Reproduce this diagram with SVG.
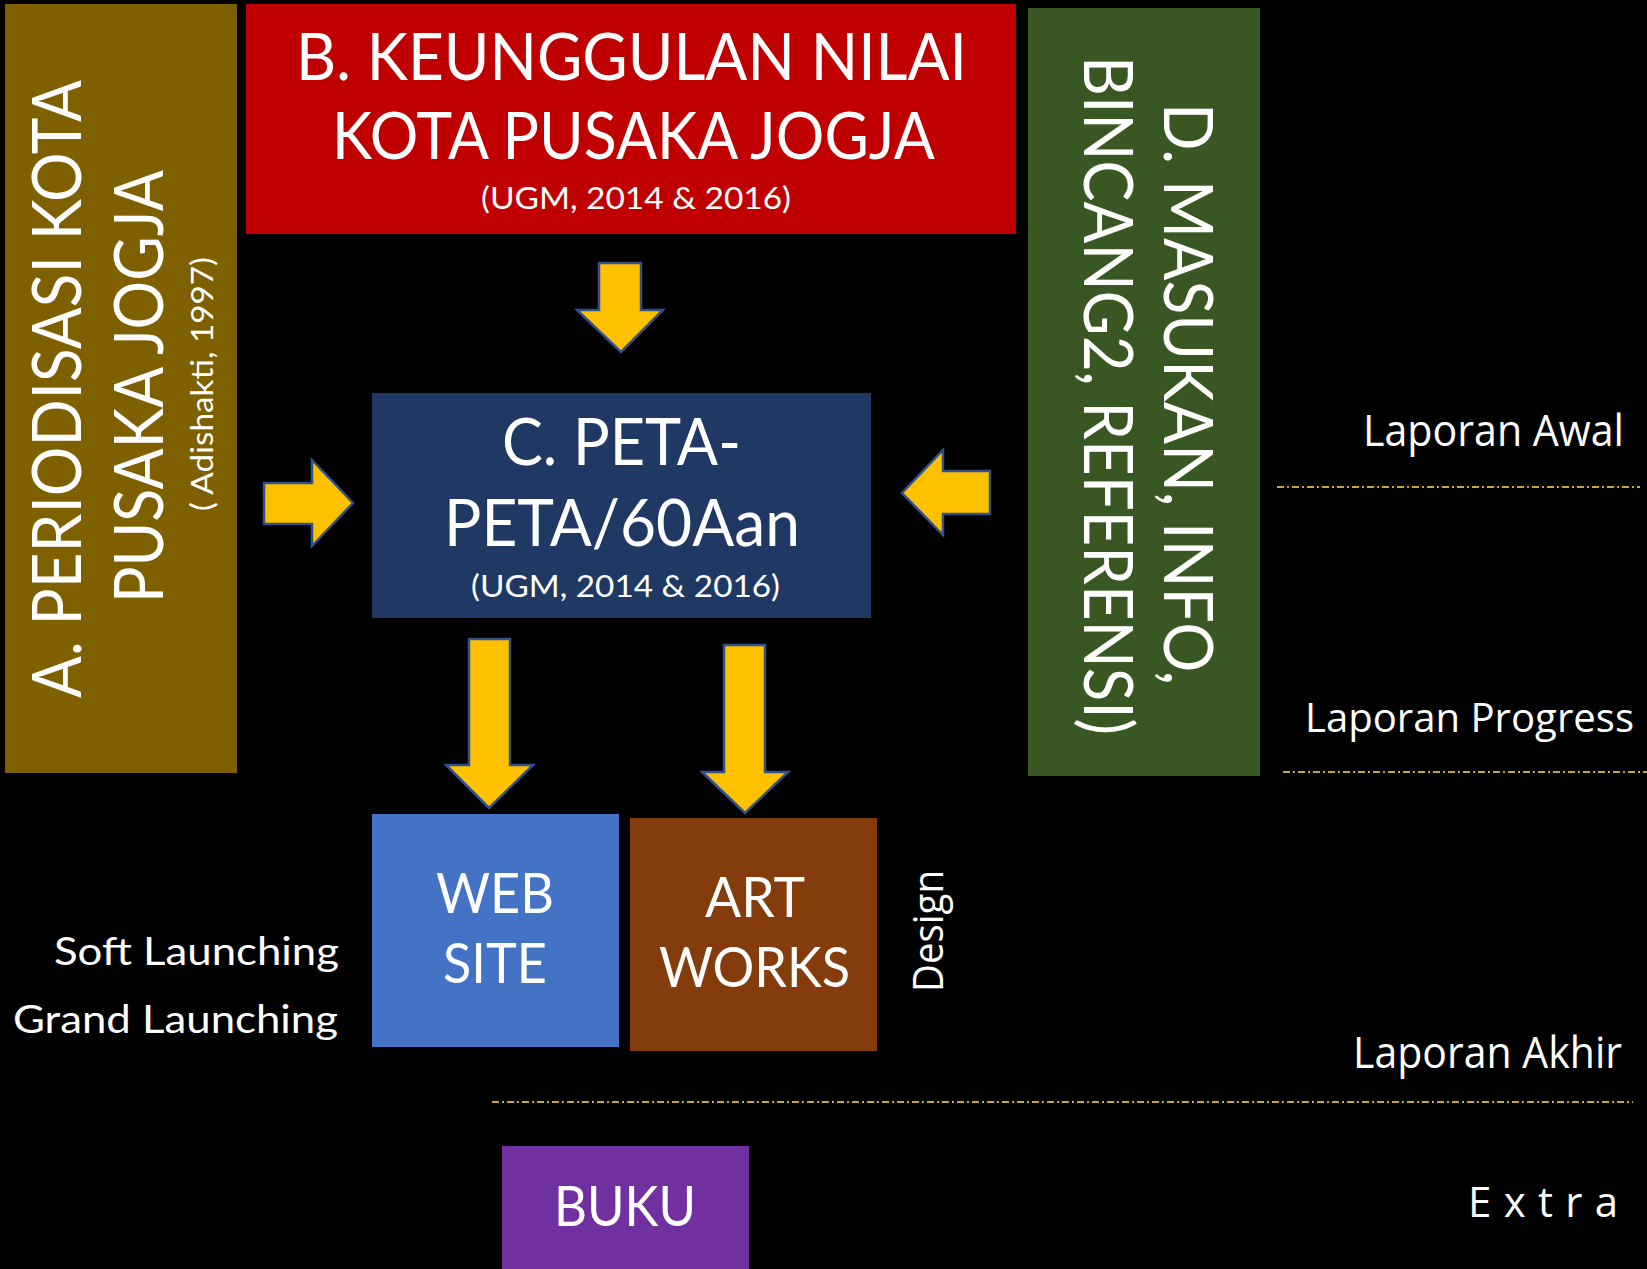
<svg xmlns="http://www.w3.org/2000/svg" width="1647" height="1269" viewBox="0 0 1647 1269">
<style>
.t{font-family:Lato,"Liberation Sans",sans-serif;fill:#fff}
.s{font-family:"Open Sans","Liberation Sans",sans-serif;fill:#fff}
.arr{fill:#FFC000;stroke:#2F528F;stroke-width:2.5;stroke-linejoin:miter}
.dash{stroke:#C9A640;stroke-width:2;stroke-dasharray:7 3 2 3;fill:none}
</style>
<rect x="0" y="0" width="1647" height="1269" fill="#000"/>

<g id="nodeA">
<rect x="5" y="4" width="232" height="769" fill="#7F6000"/>
<text class="t" font-size="67" transform="translate(81,698) rotate(-90)" textLength="618" lengthAdjust="spacingAndGlyphs">A. PERIODISASI KOTA</text>
<text class="t" font-size="67" transform="translate(163,603) rotate(-90)" textLength="433" lengthAdjust="spacingAndGlyphs">PUSAKA JOGJA</text>
<text class="t" font-size="30" transform="translate(213,511) rotate(-90)" textLength="254" lengthAdjust="spacingAndGlyphs">( Adishakti, 1997)</text>
</g>

<g id="nodeB">
<rect x="246" y="4" width="770" height="230" fill="#C00000"/>
<text class="t" font-size="66" x="296" y="80" textLength="671" lengthAdjust="spacingAndGlyphs">B. KEUNGGULAN NILAI</text>
<text class="t" font-size="66" x="332" y="159" textLength="603" lengthAdjust="spacingAndGlyphs">KOTA PUSAKA JOGJA</text>
<text class="t" font-size="31" x="481" y="209" textLength="310" lengthAdjust="spacingAndGlyphs">(UGM, 2014 &amp; 2016)</text>
</g>

<g id="nodeD">
<rect x="1028" y="8" width="232" height="768" fill="#385723"/>
<text class="t" font-size="67" transform="translate(1164,103) rotate(90)" textLength="582" lengthAdjust="spacingAndGlyphs">D. MASUKAN, INFO,</text>
<text class="t" font-size="67" transform="translate(1084,56) rotate(90)" textLength="679" lengthAdjust="spacingAndGlyphs">BINCANG2, REFERENSI)</text>
</g>

<g id="nodeC">
<rect x="372" y="393" width="499" height="225" fill="#203864"/>
<text class="t" font-size="66" x="502" y="465" textLength="239" lengthAdjust="spacingAndGlyphs">C. PETA-</text>
<text class="t" font-size="66" x="444" y="546" textLength="356" lengthAdjust="spacingAndGlyphs">PETA/60Aan</text>
<text class="t" font-size="31" x="471" y="597" textLength="309" lengthAdjust="spacingAndGlyphs">(UGM, 2014 &amp; 2016)</text>
</g>

<g id="nodeWeb">
<rect x="372" y="814" width="247" height="233" fill="#4472C4"/>
<text class="t" font-size="56" x="436" y="913" textLength="118" lengthAdjust="spacingAndGlyphs">WEB</text>
<text class="t" font-size="56" x="443" y="983" textLength="104" lengthAdjust="spacingAndGlyphs">SITE</text>
</g>

<g id="nodeArt">
<rect x="630" y="818" width="247" height="233" fill="#843C0C"/>
<text class="t" font-size="56" x="705" y="917" textLength="100" lengthAdjust="spacingAndGlyphs">ART</text>
<text class="t" font-size="56" x="659" y="987" textLength="191" lengthAdjust="spacingAndGlyphs">WORKS</text>
</g>

<g id="nodeBuku">
<rect x="502" y="1146" width="247" height="123" fill="#7030A0"/>
<text class="t" font-size="57" x="554" y="1226" textLength="142" lengthAdjust="spacingAndGlyphs">BUKU</text>
</g>

<g id="labels">
<text class="t" font-size="39" x="54" y="965" textLength="285" lengthAdjust="spacingAndGlyphs">Soft Launching</text>
<text class="t" font-size="39" x="13" y="1033" textLength="325" lengthAdjust="spacingAndGlyphs">Grand Launching</text>
<text class="s" font-size="42" transform="translate(943,992) rotate(-90)" textLength="122" lengthAdjust="spacingAndGlyphs">Design</text>
<text class="s" font-size="43" x="1363" y="446" textLength="261" lengthAdjust="spacingAndGlyphs">Laporan Awal</text>
<text class="s" font-size="40" x="1305" y="732" textLength="329" lengthAdjust="spacingAndGlyphs">Laporan Progress</text>
<text class="s" font-size="43" x="1353" y="1068" textLength="269" lengthAdjust="spacingAndGlyphs">Laporan Akhir</text>
<text class="s" font-size="42" x="1468" y="1217" textLength="150" lengthAdjust="spacing">Extra</text>
</g>

<g id="dividers">
<line class="dash" x1="1277" y1="487" x2="1640" y2="487"/>
<line class="dash" x1="1283" y1="772" x2="1647" y2="772"/>
<line class="dash" x1="492" y1="1102" x2="1633" y2="1102"/>
</g>

<g id="connectors">
<polygon class="arr" points="599,263 641,263 641,310 663,310 621,352 577,310 599,310"/>
<polygon class="arr" points="264,483 312,483 312,460 353,503 312,546 312,524 264,524"/>
<polygon class="arr" points="990,471 943,471 943,450 902,493 943,535 943,514 990,514"/>
<polygon class="arr" points="469,639 510,639 510,765 533,765 489,808 446,765 469,765"/>
<polygon class="arr" points="724,645 765,645 765,772 788,772 745,813 702,772 724,772"/>
</g>
</svg>
